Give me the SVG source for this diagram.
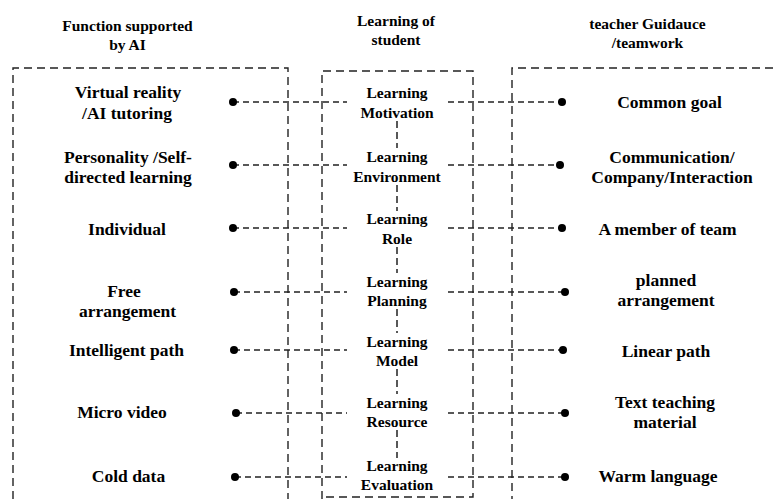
<svg xmlns="http://www.w3.org/2000/svg" width="773" height="499" viewBox="0 0 773 499">
<style>
text{font-family:"Liberation Serif","Times New Roman",serif;font-weight:bold;fill:#000;text-anchor:middle}
.h{font-size:15.5px}
.b{font-size:17.5px}
.m{font-size:15.5px}
.box{fill:none;stroke:#222;stroke-width:1.4;stroke-dasharray:8,5}
.c{fill:none;stroke:#222;stroke-width:1.4;stroke-dasharray:6,4}
.v{fill:none;stroke:#222;stroke-width:1.5;stroke-dasharray:7,4}
.d{fill:#000}
</style>
<rect width="773" height="499" fill="#fff"/>
<g id="headers">
<text class="h" x="127.5" y="31">Function supported</text>
<text class="h" x="127.5" y="50">by AI</text>
<text class="h" x="396" y="26">Learning of</text>
<text class="h" x="396" y="45">student</text>
<text class="h" x="647.5" y="29">teacher Guidauce</text>
<text class="h" x="647.5" y="48">/teamwork</text>
</g>
<g id="boxes">
<path class="box" d="M13,499 V68 H288 V499"/>
<path class="box" d="M322,499 V71 H473 V497 H322"/>
<path class="box" d="M773,68 H512 V499"/>
</g>
<g id="connectors">
<path class="c" d="M233,102 H347 M448,102 H562"/>
<path class="c" d="M233,165 H347 M448,165 H560"/>
<path class="c" d="M233,228 H347 M448,228 H562"/>
<path class="c" d="M234,292 H347 M448,292 H565"/>
<path class="c" d="M234,350 H347 M448,350 H563"/>
<path class="c" d="M236,413 H347 M448,413 H565"/>
<path class="c" d="M235,477 H347 M448,477 H565"/>
<path class="v" d="M397,121 V148 M397,185 V211 M397,247 V273 M397,309 V333 M397,369 V394 M397,430 V458"/>
<circle class="d" cx="233" cy="102" r="4"/><circle class="d" cx="562" cy="102" r="4"/>
<circle class="d" cx="233" cy="165" r="4"/><circle class="d" cx="560" cy="165" r="4"/>
<circle class="d" cx="233" cy="228" r="4"/><circle class="d" cx="562" cy="228" r="4"/>
<circle class="d" cx="234" cy="292" r="4"/><circle class="d" cx="565" cy="292" r="4"/>
<circle class="d" cx="234" cy="350" r="4"/><circle class="d" cx="563" cy="350" r="4"/>
<circle class="d" cx="236" cy="413" r="4"/><circle class="d" cx="565" cy="413" r="4"/>
<circle class="d" cx="235" cy="477" r="4"/><circle class="d" cx="565" cy="477" r="4"/>
</g>
<g id="ai-1"><text class="b" x="128" y="98">Virtual reality</text><text class="b" x="127" y="119">/AI tutoring</text></g>
<g id="ai-2"><text class="b" x="128" y="163">Personality /Self-</text><text class="b" x="128" y="183">directed learning</text></g>
<g id="ai-3"><text class="b" x="127" y="235">Individual</text></g>
<g id="ai-4"><text class="b" x="124" y="297">Free</text><text class="b" x="127.5" y="317">arrangement</text></g>
<g id="ai-5"><text class="b" x="126.5" y="356">Intelligent path</text></g>
<g id="ai-6"><text class="b" x="122" y="418">Micro video</text></g>
<g id="ai-7"><text class="b" x="128.5" y="482">Cold data</text></g>
<g id="st-1"><text class="m" x="397" y="98">Learning</text><text class="m" x="397" y="118">Motivation</text></g>
<g id="st-2"><text class="m" x="397" y="162">Learning</text><text class="m" x="397" y="182">Environment</text></g>
<g id="st-3"><text class="m" x="397" y="224">Learning</text><text class="m" x="397" y="244">Role</text></g>
<g id="st-4"><text class="m" x="397" y="287">Learning</text><text class="m" x="397" y="306">Planning</text></g>
<g id="st-5"><text class="m" x="397" y="347">Learning</text><text class="m" x="397" y="366">Model</text></g>
<g id="st-6"><text class="m" x="397" y="408">Learning</text><text class="m" x="397" y="427">Resource</text></g>
<g id="st-7"><text class="m" x="397" y="471">Learning</text><text class="m" x="397" y="490">Evaluation</text></g>
<g id="tw-1"><text class="b" x="669.5" y="108">Common goal</text></g>
<g id="tw-2"><text class="b" x="672" y="163">Communication/</text><text class="b" x="672" y="183">Company/Interaction</text></g>
<g id="tw-3"><text class="b" x="667.5" y="235">A member of team</text></g>
<g id="tw-4"><text class="b" x="666" y="286">planned</text><text class="b" x="666" y="306">arrangement</text></g>
<g id="tw-5"><text class="b" x="666" y="357">Linear path</text></g>
<g id="tw-6"><text class="b" x="665" y="408">Text teaching</text><text class="b" x="665" y="428">material</text></g>
<g id="tw-7"><text class="b" x="658" y="482">Warm language</text></g>
</svg>
